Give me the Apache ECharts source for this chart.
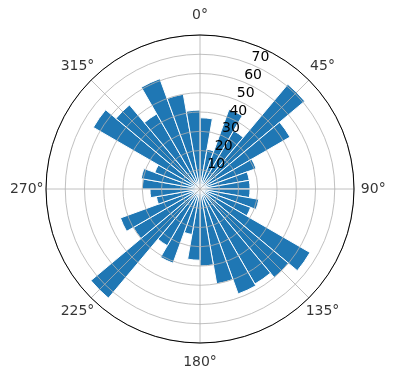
<!DOCTYPE html>
<html><head><meta charset="utf-8">
<script src="https://cdn.jsdelivr.net/npm/echarts@6/dist/echarts.min.js"></script>
<style>html,body{margin:0;padding:0;background:#fff}#c{width:396px;height:380px}</style>
</head><body><div id="c"></div><script>
// 36 direction bins, each 10 degrees wide, starting at 0° (north), clockwise
const bins = ['0','10','20','30','40','50','60','70','80','90','100','110','120','130','140','150','160','170',
              '180','190','200','210','220','230','240','250','260','270','280','290','300','310','320','330','340','350'];
const counts = [37,21,44,35,71,54,31,26,26, 26,31,28,66,60,57,58,50,40,
                37,24,41,34,74,40,44,23,26, 30,31,25,64,57,45,61,50,41];
const angleTicks = [0,45,90,135,180,225,270,315];
const radiusTicks = [10,20,30,40,50,60,70];
const radiusMax = 80;
const angleLabelRadius = 90;   // where the angle tick labels sit, in radius units

const FONT = 'DejaVu Sans';
const center = ['200', '189'];
const R = 154;
const chart = echarts.init(document.getElementById('c'), null, {renderer:'canvas'});
chart.setOption({
  animation: false,
  backgroundColor: '#fff',
  polar: [
    {center: center, radius: R},
    {center: center, radius: R},
    {center: center, radius: R}
  ],
  angleAxis: [
    {polarIndex:0, type:'category', data: bins, startAngle: 90, clockwise: true, boundaryGap: true,
     axisLine:{show:false}, axisTick:{show:false}, axisLabel:{show:false}, splitLine:{show:false}},
    {polarIndex:1, type:'value', min:0, max:360, interval:45, startAngle:90, clockwise:true, z:10,
     axisLine:{show:true, lineStyle:{color:'#000', width:1}},
     axisTick:{show:false},
     axisLabel:{show:false},
     splitLine:{show:true, lineStyle:{color:'#b0b0b0', width:0.8}}},
    {polarIndex:2, type:'value', min:0, max:360, startAngle:67.5, clockwise:true, show:false}
  ],
  radiusAxis: [
    {polarIndex:0, type:'value', min:0, max:radiusMax, show:false},
    {polarIndex:1, type:'value', min:0, max:radiusMax, interval:10, z:10,
     axisLine:{show:false}, axisTick:{show:false}, axisLabel:{show:false},
     splitLine:{show:true, lineStyle:{color:'#b0b0b0', width:0.8}}},
    {polarIndex:2, type:'value', min:0, max:radiusMax, interval:10, z:11,
     axisLine:{show:false}, axisTick:{show:false}, splitLine:{show:false},
     axisLabel:{show:true, margin:0, align:'left', verticalAlign:'bottom', color:'#000', fontFamily:FONT, fontSize:14,
       formatter: v => radiusTicks.indexOf(v) >= 0 ? String(v) : ''}}
  ],
  series: [{
    type:'bar', coordinateSystem:'polar', polarIndex:0, data: counts,
    barCategoryGap:'0%',
    itemStyle:{color:'#1f77b4', borderColor:'#fff', borderWidth:1}
  }, {
    type:'scatter', coordinateSystem:'polar', polarIndex:1, z:12, silent:true, clip:false,
    symbol:'circle', symbolSize:1, itemStyle:{color:'rgba(0,0,0,0)'},
    data: angleTicks.map(a => ({value:[angleLabelRadius, a], name: a + '°'})),
    label:{show:true, position:'inside', formatter:'{b}', color:'#000', textBorderWidth:0,
           textShadowBlur:0, fontFamily:FONT, fontSize:14}
  }]
});
</script></body></html>
